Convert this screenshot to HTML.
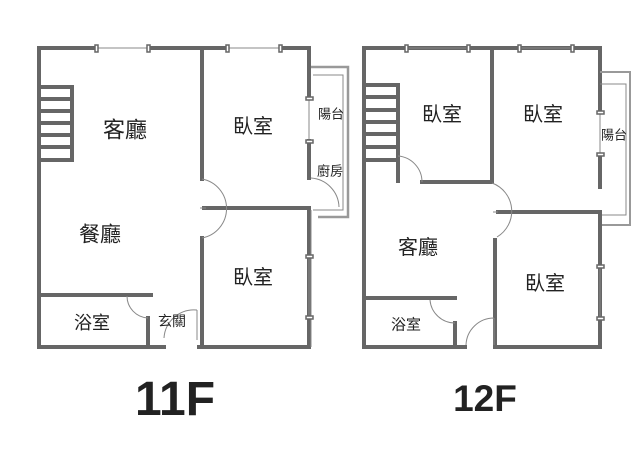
<!DOCTYPE html>
<html><head><meta charset="utf-8"><style>
html,body{margin:0;padding:0;background:#fff;}
svg{display:block}
text{font-family:"Liberation Sans","Noto Sans CJK TC",sans-serif;fill:#222}
</style></head><body>
<svg width="640" height="461" viewBox="0 0 640 461" xmlns="http://www.w3.org/2000/svg">
<g stroke="#666" stroke-width="4" fill="none" stroke-linecap="square">
<path d="M39,48 H95 M150,48 H226 M282,48 H309"/>
<path d="M39,48 V347 H164 M199,347 H309 V210"/>
<path d="M309,48 V98 M309,141 V178"/>
<path d="M202,48 V179 M202,238 V347"/>
<path d="M204,208 H309"/>
<path d="M39,295 H151 M148,318 V347"/>
<path d="M39,87 H72 V160 H39 M39,99 H72 M39,111 H72 M39,123 H72 M39,135 H72 M39,147 H72"/>
<path d="M364,48 H404 M410,48 H465 M471,48 H517 M522,48 H570 M575,48 H600"/>
<path d="M364,48 V347 H465 M495,347 H600 V212"/>
<path d="M600,48 V112 M600,155 V187"/>
<path d="M492,48 V182 H422"/>
<path d="M364,85 H398 V181 M364,160 H398 M364,97 H398 M364,110 H398 M364,122 H398 M364,134 H398 M364,147 H398"/>
<path d="M498,212 H600"/>
<path d="M495,240 V347"/>
<path d="M364,298 H455 M455,323 V347"/>
</g>
<g stroke="#888" stroke-width="1" fill="none">
<path d="M97,48 H148 M228,48 H280"/>
<path d="M309,98 V141 M309,256 V317 M311,210 V347"/>
<path d="M313,75 H343 V210 H313"/>
<path stroke-width="2.5" stroke="#999" d="M311,67 H348 V217 H318"/>
<path d="M202,179 A30,30 0 0 1 202,238 M200,208 H206"/>
<path d="M311,178 A30,30 0 0 1 339,207"/>
<path d="M127,296 A22,22 0 0 0 148,318"/>
<path d="M164,338 A30,30 0 0 1 197,310 M197,310 V340"/>
<path d="M406,48 H468 M519,48 H572"/>
<path d="M600,112 V155 M600,266 V318"/>
<path d="M600,84 H626 V215 H602"/>
<path stroke-width="2" stroke="#999" d="M600,72 H630 V225 H602"/>
<path d="M398,156 A26,26 0 0 1 422,182"/>
<path d="M492,183 A30,30 0 0 1 497,237 M493,212 H498"/>
<path d="M430,300 A25,25 0 0 0 455,323"/>
<path d="M466,345 A28,28 0 0 1 494,318 M494,318 V345"/>
</g>
<g stroke="#666" stroke-width="1.5" fill="#fff">
<rect x="95" y="45" width="3" height="7"/><rect x="147" y="45" width="3" height="7"/>
<rect x="226" y="45" width="3" height="7"/><rect x="279" y="45" width="3" height="7"/>
<rect x="306" y="97" width="7" height="3"/><rect x="306" y="140" width="7" height="3"/>
<rect x="306" y="255" width="7" height="3"/><rect x="306" y="316" width="7" height="3"/>
<rect x="405" y="45" width="3" height="7"/><rect x="467" y="45" width="3" height="7"/>
<rect x="518" y="45" width="3" height="7"/><rect x="571" y="45" width="3" height="7"/>
<rect x="597" y="111" width="7" height="3"/><rect x="597" y="153" width="7" height="3"/>
<rect x="597" y="265" width="7" height="3"/><rect x="597" y="317" width="7" height="3"/>
</g>
<g font-size="20" text-anchor="middle" dominant-baseline="central">
<text x="125" y="130" font-size="22">客廳</text>
<text x="100" y="235" font-size="21">餐廳</text>
<text x="253" y="127">臥室</text>
<text x="253" y="278">臥室</text>
<text x="92" y="323" font-size="18">浴室</text>
<text x="172" y="321" font-size="14">玄關</text>
<text x="331" y="114" font-size="13">陽台</text>
<text x="330" y="171" font-size="13">廚房</text>
<text x="442" y="115">臥室</text>
<text x="543" y="115">臥室</text>
<text x="418" y="248">客廳</text>
<text x="545" y="284">臥室</text>
<text x="406" y="325" font-size="15">浴室</text>
<text x="614" y="135" font-size="13">陽台</text>
</g>
<text x="175" y="415" font-size="48" font-weight="bold" text-anchor="middle" fill="#111">11F</text>
<text x="485" y="411" font-size="37" font-weight="bold" text-anchor="middle" fill="#111">12F</text>
</svg>
</body></html>
